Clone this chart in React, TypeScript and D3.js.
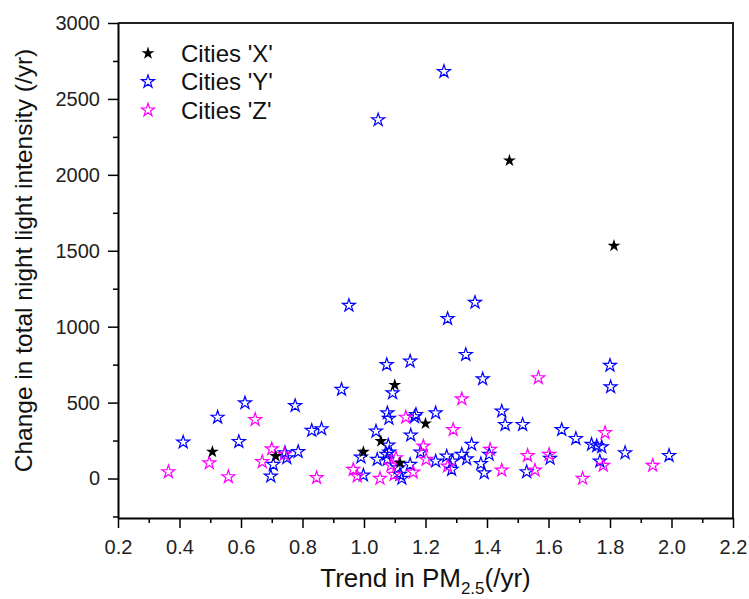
import React, { useRef, useEffect } from "react";
import * as d3 from "d3";

// Cities 'X' (black, filled)
const citiesX: [number, number][] = [
  [0.507, 176], [0.713, 147], [0.998, 175], [1.055, 246], [1.10, 616],
  [1.117, 103], [1.20, 362], [1.473, 2094], [1.813, 1533],
];

// Cities 'Y' (blue, open)
const citiesY: [number, number][] = [
  [1.046, 2362], [1.26, 2680], [0.613, 498], [0.776, 480], [0.524, 403],
  [0.83, 316], [0.862, 327], [0.412, 239], [0.593, 243], [0.743, 169],
  [0.749, 136], [0.786, 176], [0.705, 92], [0.697, 15], [0.951, 1140],
  [1.361, 1160], [1.272, 1053], [1.331, 816], [1.074, 750], [1.15, 772],
  [1.386, 656], [1.093, 564], [0.927, 586], [1.448, 443], [1.459, 355],
  [1.516, 355], [1.076, 432], [1.081, 395], [1.169, 421], [1.164, 406],
  [1.233, 432], [1.039, 311], [1.152, 285], [1.079, 219], [1.35, 224],
  [0.99, 140], [1.082, 173], [1.184, 173], [1.043, 125], [1.233, 114],
  [1.269, 147], [1.318, 158], [1.334, 129], [1.15, 92], [1.076, 125],
  [1.111, 70], [1.285, 59], [1.38, 97], [1.391, 37], [1.529, 44],
  [0.998, 22], [1.123, 0], [1.643, 322], [1.689, 263], [1.74, 224],
  [1.757, 215], [1.773, 208], [1.605, 132], [1.767, 114], [1.80, 745],
  [1.802, 603], [1.849, 169], [1.992, 151], [1.073, 158], [1.117, 26],
  [1.407, 158], [1.288, 114],
];

// Cities 'Z' (magenta, open)
const citiesZ: [number, number][] = [
  [0.646, 388], [0.70, 195], [0.741, 158], [0.497, 103], [0.669, 110],
  [0.364, 44], [0.559, 11], [0.846, 5], [1.567, 663], [1.318, 524],
  [1.136, 403], [1.29, 322], [1.193, 213], [1.41, 191], [1.532, 151],
  [1.104, 136], [1.202, 125], [1.088, 88], [1.272, 81], [1.448, 55],
  [1.556, 55], [0.965, 59], [0.978, 15], [1.052, 0], [1.098, 26],
  [1.16, 41], [1.784, 301], [1.602, 158], [1.711, 0], [1.778, 86],
  [1.939, 86],
];

const xTicks = [0.2, 0.4, 0.6, 0.8, 1.0, 1.2, 1.4, 1.6, 1.8, 2.0, 2.2];
const xMinor = [0.3, 0.5, 0.7, 0.9, 1.1, 1.3, 1.5, 1.7, 1.9, 2.1];
const yTicks = [0, 500, 1000, 1500, 2000, 2500, 3000];
const yMinor = [-250, 250, 750, 1250, 1750, 2250, 2750];

const legendItems = [
  { label: "Cities 'X'", color: "#000000", filled: true },
  { label: "Cities 'Y'", color: "#0000ff", filled: false },
  { label: "Cities 'Z'", color: "#ff00ff", filled: false },
];

const FONT = "'Liberation Sans', Arial, sans-serif";

export default function App() {
  const svgRef = useRef<SVGSVGElement>(null);

  useEffect(() => {
    const svg = d3.select(svgRef.current);
    svg.selectAll("*").remove();

    const left = 118, right = 733, top = 23, bottom = 518;
    const x = d3.scaleLinear().domain([0.2, 2.2]).range([left, right]);
    const y = d3.scaleLinear().domain([-260, 3000]).range([bottom, top]);

    // top/right frame
    svg.append("path")
      .attr("d", `M${left},${top}H${right}V${bottom}`)
      .attr("fill", "none")
      .attr("stroke", "#222")
      .attr("stroke-width", 2);

    // x axis
    const gx = svg.append("g").attr("transform", `translate(0,${bottom})`);
    gx.call(d3.axisBottom(x).tickValues(xTicks).tickFormat(d3.format(".1f"))
      .tickSize(10).tickSizeOuter(0).tickPadding(12));
    svg.append("g").attr("transform", `translate(0,${bottom})`)
      .call(d3.axisBottom(x).tickValues(xMinor).tickFormat(() => "").tickSize(5).tickSizeOuter(0))
      .call(g => g.select(".domain").remove());

    // y axis
    const gy = svg.append("g").attr("transform", `translate(${left},0)`);
    gy.call(d3.axisLeft(y).tickValues(yTicks).tickFormat(d3.format("d"))
      .tickSize(10).tickSizeOuter(0).tickPadding(8));
    svg.append("g").attr("transform", `translate(${left},0)`)
      .call(d3.axisLeft(y).tickValues(yMinor).tickFormat(() => "").tickSize(5).tickSizeOuter(0))
      .call(g => g.select(".domain").remove());

    svg.selectAll(".domain").attr("stroke", "#000").attr("stroke-width", 2);
    svg.selectAll(".tick line").attr("stroke", "#000").attr("stroke-width", 1.5);
    svg.selectAll(".tick text").attr("font-size", 20).attr("font-family", FONT).attr("fill", "#222");

    // points
    const star = d3.symbol(d3.symbolStar, 52);
    const drawSeries = (data: [number, number][], color: string, filled: boolean) => {
      svg.append("g")
        .selectAll("path")
        .data(data)
        .join("path")
        .attr("d", star)
        .attr("transform", d => `translate(${x(d[0])},${y(d[1])})`)
        .attr("fill", filled ? color : "none")
        .attr("stroke", filled ? "none" : color)
        .attr("stroke-width", 1.2);
    };
    drawSeries(citiesY, "#0000ff", false);
    drawSeries(citiesZ, "#ff00ff", false);
    drawSeries(citiesX, "#000000", true);

    // legend
    const lg = svg.append("g");
    legendItems.forEach((item, i) => {
      const ly = 53.3 + i * 28.4;
      lg.append("path")
        .attr("d", star)
        .attr("transform", `translate(148,${ly})`)
        .attr("fill", item.filled ? item.color : "none")
        .attr("stroke", item.filled ? "none" : item.color)
        .attr("stroke-width", 1.2);
      lg.append("text")
        .attr("x", 181)
        .attr("y", ly)
        .attr("dy", "0.35em")
        .attr("font-size", 24)
        .attr("font-family", FONT)
        .attr("fill", "#111")
        .text(item.label);
    });

    // axis titles
    const xt = svg.append("text")
      .attr("x", (left + right) / 2)
      .attr("y", 587)
      .attr("text-anchor", "middle")
      .attr("font-size", 26)
      .attr("font-family", FONT)
      .attr("fill", "#111");
    xt.append("tspan").text("Trend in PM");
    xt.append("tspan").attr("font-size", 17).attr("dy", 7).text("2.5");
    xt.append("tspan").attr("dy", -7).text("(/yr)");

    svg.append("text")
      .attr("transform", `translate(32,${(top + bottom) / 2 - 10}) rotate(-90)`)
      .attr("text-anchor", "middle")
      .attr("font-size", 24.5)
      .attr("font-family", FONT)
      .attr("fill", "#111")
      .text("Change in total night light intensity (/yr)");
  }, []);

  return (
    <svg
      ref={svgRef}
      width={749}
      height={599}
      style={{ position: "absolute", left: 0, top: 0, display: "block", background: "#fff" }}
    />
  );
}
